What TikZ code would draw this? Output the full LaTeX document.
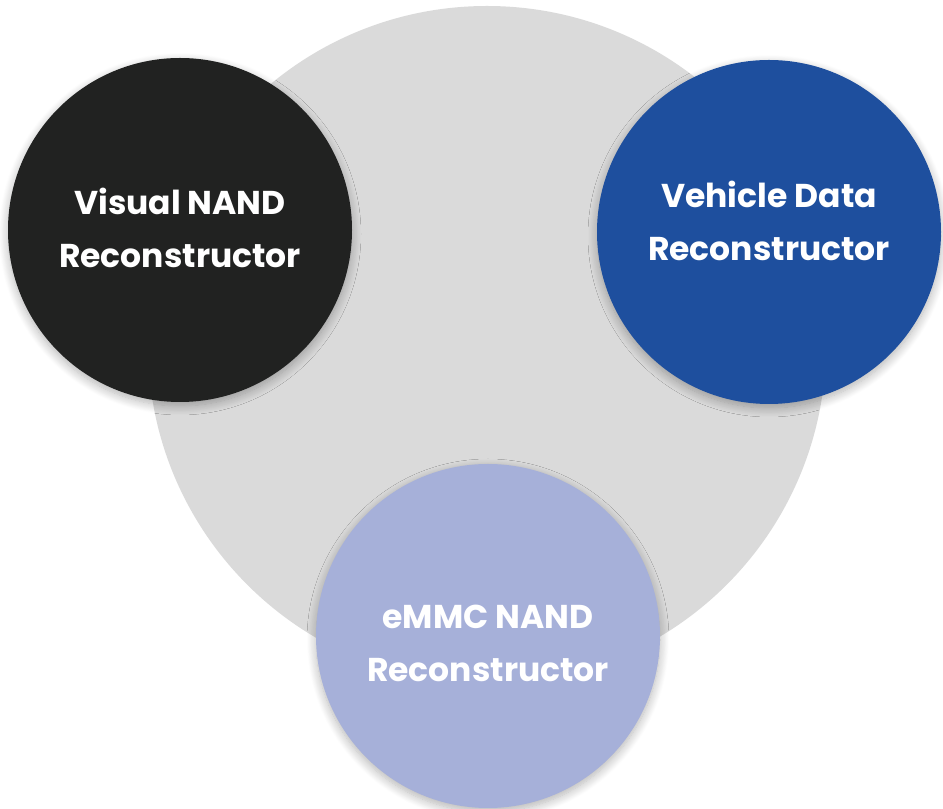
\documentclass[tikz,border=0pt]{standalone}
\usepackage{fontspec}
\setmainfont{Poppins}
\usepackage{tikz}
\usetikzlibrary{shadows.blur}
\definecolor{ringgray}{HTML}{DADADA}
\definecolor{nandblack}{HTML}{212221}
\definecolor{vehicleblue}{HTML}{1E4F9E}
\definecolor{emmclav}{HTML}{A6B0D9}

\begin{document}
\begin{tikzpicture}[x=1pt, y=1pt,
		bubble/.style={circle, minimum size=344pt, inner sep=0pt,
			blur shadow={shadow xshift=0pt, shadow yshift=-4pt, shadow blur radius=9pt, shadow blur steps=12, shadow opacity=30}},
		bubbletext/.style={align=center, text=white, font=\bfseries\fontsize{33}{53}\selectfont}]
		\useasboundingbox (0,0) rectangle (943,809);
		\coordinate (G) at (487, 464);
		\coordinate (V) at (180, 579);
		\coordinate (D) at (769, 577);
		\coordinate (E) at (488, 173);

		\fill[ringgray] (G) circle (339pt);
		\foreach \pos/\name/\col/\txt/\off in {V/visual/nandblack/Visual NAND/2, D/vehicle/vehicleblue/Vehicle Data/11, E/emmc/emmclav/eMMC NAND/-7} {
			\node[bubble, fill=\col, label={[bubbletext, yshift=\off pt]center:{\txt\\Reconstructor}}] (\name) at (\pos) {};
		}
	\end{tikzpicture}
\end{document}
